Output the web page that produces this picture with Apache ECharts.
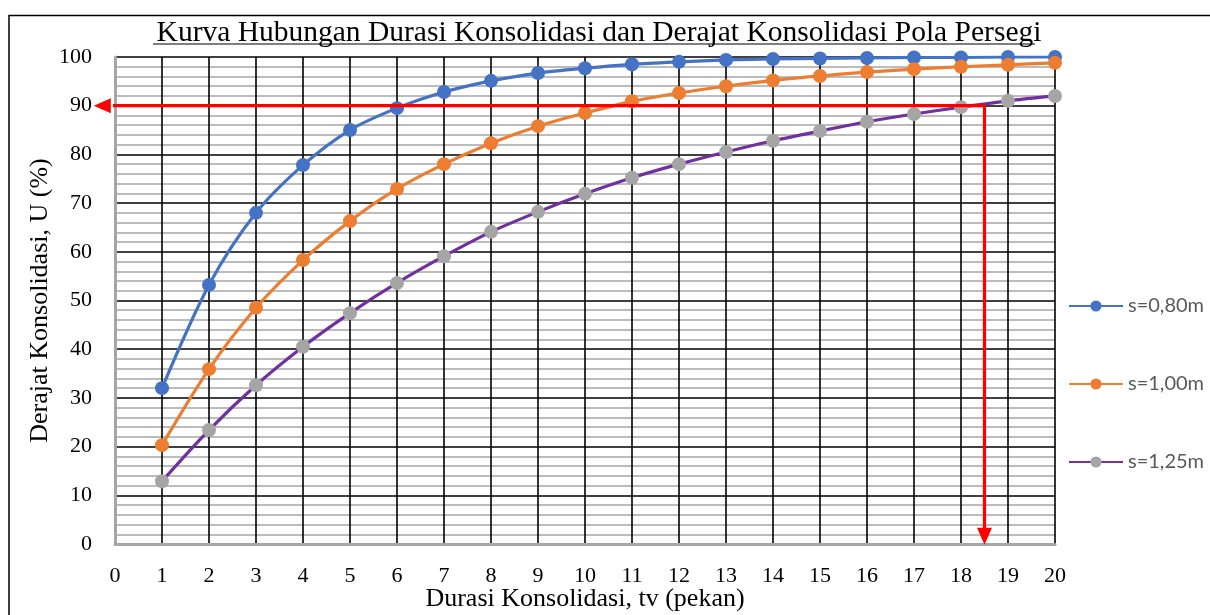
<!DOCTYPE html>
<html>
<head>
<meta charset="utf-8">
<script src="https://cdn.jsdelivr.net/npm/echarts@6/dist/echarts.min.js"></script>
<style>
  html, body { margin: 0; padding: 0; background: #fff; }
  #chart { width: 1210px; height: 615px; }
</style>
</head>
<body>
<div id="chart"></div>
<script>
// Durasi konsolidasi (pekan)
const durations = [1, 2, 3, 4, 5, 6, 7, 8, 9, 10, 11, 12, 13, 14, 15, 16, 17, 18, 19, 20];

// Derajat konsolidasi U (%) per jarak drain
const u080 = [32.0, 53.2, 68.0, 77.8, 85.0, 89.5, 92.8, 95.1, 96.7, 97.7, 98.5, 99.0, 99.4, 99.6, 99.7, 99.8, 99.9, 99.9, 100.0, 100.0];
const u100 = [20.3, 35.9, 48.5, 58.3, 66.3, 72.9, 78.0, 82.3, 85.8, 88.5, 90.9, 92.6, 94.0, 95.2, 96.1, 96.9, 97.5, 98.0, 98.4, 98.8];
const u125 = [12.9, 23.4, 32.6, 40.5, 47.4, 53.6, 59.1, 64.1, 68.2, 71.9, 75.2, 78.0, 80.5, 82.8, 84.8, 86.7, 88.3, 89.7, 91.0, 92.0];

const seriesNames = ['s=0,80m', 's=1,00m', 's=1,25m'];

// Reading of 90% consolidation: U = 90 reached at t = 18.5 pekan for s = 1,25 m
const targetU = 90;
const targetT = 18.5;
// arrow heads end just past the axes
const arrowTipT = -0.27;
const arrowTipU = 1.6;

const serif = '"Liberation Serif", "Times New Roman", serif';

function pairs(values) {
  return durations.map((t, i) => [t, values[i]]);
}

function curve(name, values, lineColor, markerColor) {
  return {
    name: name,
    type: 'line',
    data: pairs(values),
    smooth: 0.3,
    symbol: 'circle',
    symbolSize: 14,
    lineStyle: { color: lineColor, width: 3.2 },
    itemStyle: { color: markerColor },
    z: 5
  };
}

// red reading line with an arrow head at its end point
function arrow(from, to, rotate) {
  return {
    name: 'pembacaan',
    type: 'line',
    clip: false,
    silent: true,
    z: 6,
    lineStyle: { color: '#FF0000', width: 3.2 },
    itemStyle: { color: '#FF0000' },
    data: [
      { value: from, symbol: 'none' },
      { value: to, symbol: 'triangle', symbolSize: [15, 17], symbolRotate: rotate }
    ]
  };
}

const chart = echarts.init(document.getElementById('chart'), null, { renderer: 'canvas' });

chart.setOption({
  animation: false,
  backgroundColor: '#ffffff',
  title: {
    text: 'Kurva Hubungan Durasi Konsolidasi dan Derajat Konsolidasi Pola Persegi',
    left: 594,
    textAlign: 'center',
    top: 13,
    textStyle: { fontFamily: serif, fontSize: 29.5, fontWeight: 'normal', color: '#000' }
  },
  graphic: [
    // underline below the title
    { type: 'line', shape: { x1: 153, y1: 44, x2: 1035, y2: 44 }, style: { stroke: '#000', lineWidth: 1.2 } },
    // chart area frame
    { type: 'polyline', shape: { points: [[9, 615], [9, 15.5], [1212, 15.5]] }, style: { stroke: '#000', lineWidth: 1.5, fill: null } }
  ],
  legend: {
    orient: 'vertical',
    left: 1063,
    top: 291,
    itemGap: 58,
    itemWidth: 54,
    itemHeight: 14,
    data: seriesNames,
    textStyle: { fontFamily: 'Lato, "Open Sans", sans-serif', fontSize: 20, color: '#595959' }
  },
  grid: { left: 115, right: 155, top: 57, bottom: 71, containLabel: false, outerBoundsMode: 'none' },
  xAxis: {
    type: 'value',
    min: 0,
    max: 20,
    interval: 1,
    name: 'Durasi Konsolidasi, tv (pekan)',
    nameLocation: 'middle',
    nameGap: 42,
    nameMoveOverlap: false,
    nameTextStyle: { fontFamily: serif, fontSize: 26, color: '#000' },
    axisLine: { show: true, lineStyle: { color: '#a6a6a6', width: 3 } },
    axisTick: { show: false },
    axisLabel: { fontFamily: serif, fontSize: 22, color: '#000', margin: 21 },
    splitLine: { show: true, lineStyle: { color: '#000', width: 1.6 } }
  },
  yAxis: {
    type: 'value',
    min: 0,
    max: 100,
    interval: 10,
    name: 'Derajat Konsolidasi, U (%)',
    nameLocation: 'middle',
    nameGap: 62,
    nameMoveOverlap: false,
    nameTextStyle: { fontFamily: serif, fontSize: 26, color: '#000' },
    axisLine: { show: true, lineStyle: { color: '#a6a6a6', width: 3 } },
    axisTick: { show: false },
    axisLabel: { fontFamily: serif, fontSize: 22, color: '#000', margin: 23 },
    splitLine: { show: true, lineStyle: { color: '#000', width: 1.6 } },
    minorTick: { show: false, splitNumber: 5 },
    minorSplitLine: { show: true, lineStyle: { color: '#a6a6a6', width: 1.6 } }
  },
  series: [
    curve(seriesNames[0], u080, '#4472C4', '#4472C4'),
    curve(seriesNames[1], u100, '#ED7D31', '#ED7D31'),
    curve(seriesNames[2], u125, '#7030A0', '#A5A5A5'),
    arrow([targetT, targetU], [arrowTipT, targetU], 90),
    arrow([targetT, targetU], [targetT, arrowTipU], 180)
  ]
});
</script>
</body>
</html>
